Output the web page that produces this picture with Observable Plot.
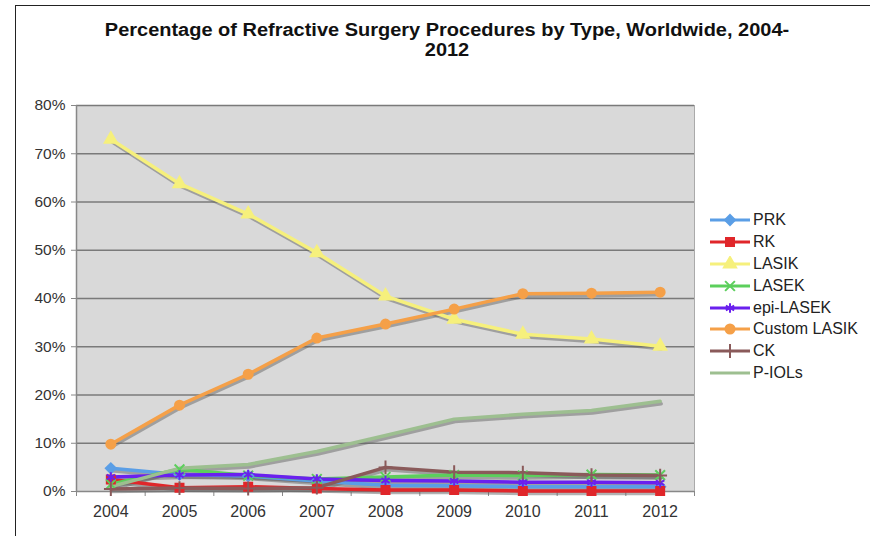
<!DOCTYPE html>
<html>
<head>
<meta charset="utf-8">
<script src="https://cdn.jsdelivr.net/npm/d3@7"></script>
<script src="https://cdn.jsdelivr.net/npm/@observablehq/plot@0.6"></script>
<style>
  html, body { margin: 0; padding: 0; background: #fff; }
  #wrap { position: relative; width: 870px; height: 536px; overflow: hidden; font-family: "Liberation Sans", Arial, sans-serif; }
  #border { position: absolute; left: 15px; top: 5px; width: 900px; height: 600px; border-left: 1.5px solid #222; border-top: 1.5px solid #222; box-sizing: border-box; }
  #title { position: absolute; left: 0; width: 894px; top: 20px; text-align: center; font-weight: bold; font-size: 18px; line-height: 20px; color: #111; transform: scaleX(1.11); transform-origin: 447px 0; }
  #legend { position: absolute; left: 708px; top: 209px; font-size: 16px; color: #222; }
  .item { height: 21.9px; display: flex; align-items: center; }
  .item svg { margin-right: 1px; }
  #chart { position: absolute; left: 0; top: 0; }
</style>
</head>
<body>
<div id="wrap">
  <div id="border"></div>
  <div id="chart"></div>
  <div id="title">Percentage of Refractive Surgery Procedures by Type, Worldwide, 2004-<br>2012</div>
  <div id="legend"></div>
</div>
<script>
const years = [2004, 2005, 2006, 2007, 2008, 2009, 2010, 2011, 2012];
const seriesNames = ["PRK", "RK", "LASIK", "LASEK", "epi-LASEK", "Custom LASIK", "CK", "P-IOLs"];
const prk         = [4.8, 3.5, 3.2, 2.2, 1.3, 1.2, 1.0, 1.0, 1.0];
const rk          = [2.5, 0.8, 1.0, 0.6, 0.3, 0.3, 0.1, 0.1, 0.1];
const lasik       = [73, 63.8, 57.5, 49.5, 40.5, 35.7, 32.6, 31.6, 30.1];
const lasek       = [1.5, 4.6, 3.3, 2.6, 3.0, 3.4, 3.3, 3.5, 3.4];
const epiLasek    = [3.0, 3.4, 3.5, 2.6, 2.3, 2.2, 1.9, 1.9, 1.8];
const customLasik = [9.8, 17.9, 24.3, 31.8, 34.7, 37.8, 41.0, 41.1, 41.3];
const ck          = [0.5, 0.7, 0.6, 0.8, 5.0, 4.0, 3.9, 3.4, 3.3];
const pIols       = [1.0, 4.8, 5.6, 8.3, 11.6, 15.0, 16.0, 16.8, 18.7];
const yTicks = [0, 10, 20, 30, 40, 50, 60, 70, 80];
const colors  = ["#5a9ee6", "#e0262a", "#f6f07c", "#5ccf5c", "#6a20ee", "#f5a048", "#8a5a5a", "#9dbf90"];
const symbols = ["diamond2", "square", "triangle", "times", "asterisk", "circle", "plus", "circle"];

const allValues = [prk, rk, lasik, lasek, epiLasek, customLasik, ck, pIols];
const data = seriesNames.flatMap((s, i) => years.map((y, j) => ({series: s, year: y, value: allValues[i][j]})));
const markerData = data.filter(d => d.series !== "P-IOLs");
const boundaries = d3.range(2003.5, 2013, 1);

const plot = Plot.plot({
  width: 870, height: 536,
  marginLeft: 76, marginRight: 176, marginTop: 105, marginBottom: 45,
  style: {fontFamily: "'Liberation Sans', Arial, sans-serif", background: "transparent"},
  x: {domain: [2003.5, 2012.5], label: null},
  y: {domain: [0, 80], label: null},
  color: {domain: seriesNames, range: colors},
  symbol: {domain: seriesNames, range: symbols},
  marks: [
    Plot.frame({fill: "#d9d9d9", stroke: "#aaa"}),
    Plot.ruleY(yTicks.filter(d => d > 0), {stroke: "#7a7a7a", strokeWidth: 1.3}),
    Plot.ruleY([0], {stroke: "#888", strokeWidth: 1.5}),
    Plot.ruleX([2003.5], {stroke: "#888", strokeWidth: 1.5}),
    Plot.axisY({ticks: yTicks, tickFormat: d => d + "%", tickSize: 5, tickPadding: 6, fontSize: 15.5, stroke: "#888", color: "#333"}),
    Plot.axisX({ticks: boundaries, tickFormat: () => "", tickSize: 5, stroke: "#888"}),
    Plot.axisX({ticks: years, tickFormat: d => String(d), tickSize: 0, tickPadding: 14, fontSize: 16, color: "#333"}),
    Plot.line(data, {x: "year", y: "value", z: "series", stroke: "#666", strokeOpacity: 0.5, strokeWidth: 3.5, dx: 1, dy: 2.5}),
    Plot.line(data, {x: "year", y: "value", z: "series", stroke: "series", strokeWidth: 3.5}),
    Plot.dot(markerData, {x: "year", y: "value", symbol: "series", fill: "series", stroke: "series", r: 4.5, strokeWidth: 2})
  ]
});
document.getElementById("chart").appendChild(plot);

// legend
const legend = d3.select("#legend");
const symScale = d3.scaleOrdinal().domain(seriesNames).range([d3.symbolDiamond2, d3.symbolSquare, d3.symbolTriangle, d3.symbolTimes, d3.symbolAsterisk, d3.symbolCircle, d3.symbolPlus, null]);
seriesNames.forEach((s, i) => {
  const it = legend.append("div").attr("class", "item");
  const svg = it.append("svg").attr("width", 44).attr("height", 16);
  svg.append("line").attr("x1", 2).attr("x2", 42).attr("y1", 8).attr("y2", 8).attr("stroke", colors[i]).attr("stroke-width", 3);
  const sym = symScale(s);
  if (sym) {
    svg.append("path").attr("transform", "translate(22,8)").attr("d", d3.symbol(sym, 64)())
      .attr("fill", colors[i]).attr("stroke", colors[i]).attr("stroke-width", 2);
  }
  it.append("span").text(s);
});
</script>
</body>
</html>
